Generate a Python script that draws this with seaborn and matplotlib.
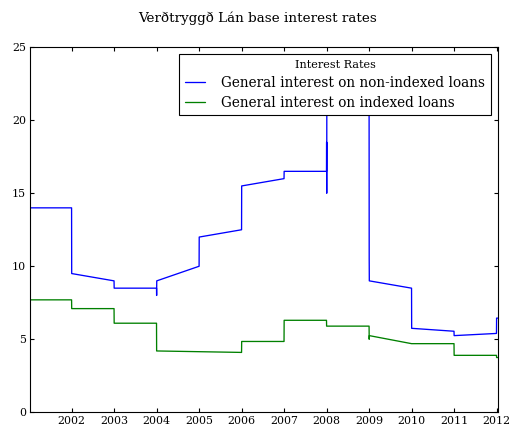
import pandas as pd
import numpy as np
import matplotlib
matplotlib.use("Agg")
import matplotlib.pyplot as plt
import matplotlib.dates as mdates
import seaborn as sns

# Rates (percent)
non_indexed_dates = ["2001-01-04", "2001-01-05", "2001-12-31", "2002-01-01", "2002-12-31",
                     "2003-01-01", "2003-12-31", "2004-01-01", "2004-01-02", "2004-12-31",
                     "2005-01-01", "2005-12-31", "2006-01-01", "2006-12-31", "2007-01-01",
                     "2007-12-31", "2008-01-01", "2008-01-02", "2008-01-03", "2008-12-31",
                     "2009-01-01", "2009-01-02", "2009-12-31", "2010-01-01", "2010-12-31",
                     "2011-01-01", "2011-12-31", "2012-01-01", "2012-01-11"]
non_indexed_rates = [14.5, 14.0, 14.0, 9.5, 9.0,
                     8.5, 8.5, 8.0, 9.0, 10.0,
                     12.0, 12.5, 15.5, 16.0, 16.5,
                     16.5, 18.5, 15.0, 22.5, 22.5,
                     10.5, 9.0, 8.5, 5.75, 5.55,
                     5.25, 5.4, 6.45, 6.45]

indexed_dates = ["2001-01-04", "2001-12-31", "2002-01-01", "2002-12-31", "2003-01-01",
                 "2003-12-31", "2004-01-01", "2005-12-31", "2006-01-01", "2006-12-31",
                 "2007-01-01", "2007-12-31", "2008-01-01", "2008-12-31", "2009-01-01",
                 "2009-01-02", "2009-12-31", "2010-12-31", "2011-01-01", "2011-12-31",
                 "2012-01-01", "2012-01-11"]
indexed_rates = [7.7, 7.7, 7.1, 7.1, 6.1,
                 6.1, 4.2, 4.1, 4.85, 4.85,
                 6.3, 6.3, 5.9, 5.9, 5.0,
                 5.25, 4.7, 4.7, 3.9, 3.9,
                 3.75, 3.75]

labels = ["General interest on non-indexed loans", "General interest on indexed loans"]

sns.set_style("white")
plt.rcParams["font.family"] = ["DejaVu Serif"]
plt.rcParams.update({
    "xtick.direction": "in", "ytick.direction": "in",
    "xtick.top": True, "ytick.right": True,
    "xtick.bottom": True, "ytick.left": True,
    "xtick.major.size": 3, "ytick.major.size": 3,
    "xtick.major.width": 0.8, "ytick.major.width": 0.8,
    "xtick.major.pad": 3, "ytick.major.pad": 2.6,
    "axes.edgecolor": "black", "axes.linewidth": 0.8,
    "xtick.color": "black", "ytick.color": "black",
    "text.color": "black", "axes.labelcolor": "black",
})

df1 = pd.DataFrame({"Date": pd.to_datetime(non_indexed_dates), "Rate": non_indexed_rates})
df2 = pd.DataFrame({"Date": pd.to_datetime(indexed_dates), "Rate": indexed_rates})

fig = plt.figure(figsize=(5.1, 4.28), dpi=100)
ax = fig.add_axes([0.058, 0.0367, 0.918, 0.853])

sns.lineplot(data=df1, x="Date", y="Rate", color="b", lw=0.95, estimator=None, label=labels[0], ax=ax)
sns.lineplot(data=df2, x="Date", y="Rate", color="g", lw=0.95, estimator=None, label=labels[1], ax=ax)

ax.set_xlim(df1["Date"].min(), df1["Date"].max())
ax.set_ylim(0, 25)
ax.set_yticks([0, 5, 10, 15, 20, 25])
ax.xaxis.set_major_locator(mdates.YearLocator())
ax.xaxis.set_major_formatter(mdates.DateFormatter("%Y"))
ax.tick_params(labelsize=7.9)
ax.set_xlabel("")
ax.set_ylabel("")
for s in ax.spines.values():
    s.set_visible(True)

leg = ax.legend(title="Interest Rates", loc="upper right", fontsize=9.85, title_fontsize=8.15,
                fancybox=False, framealpha=1, edgecolor="black", handlelength=1.5,
                handletextpad=1.2, borderaxespad=0.5, labelspacing=0.45, borderpad=0.4)
leg.get_frame().set_linewidth(0.8)

fig.suptitle("Verðtryggð Lán base interest rates", fontsize=9.7, x=0.505, y=0.958, va="center")

plt.savefig("out.png", dpi=100)
plt.close()
